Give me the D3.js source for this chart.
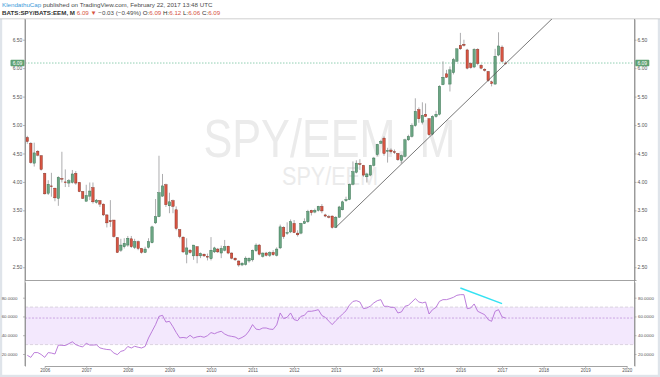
<!DOCTYPE html>
<html>
<head>
<meta charset="utf-8">
<script src="https://cdn.jsdelivr.net/npm/d3@7"></script>
<style>
  body { margin: 0; background: #fff; }
  svg { display: block; font-family: "Liberation Sans", Arial, sans-serif; }
</style>
</head>
<body>
<svg id="chart" width="660" height="377"></svg>
<script>
// Monthly SPY/EEM candles, Aug 2005 .. Feb 2017
var opens = [4.78,4.68,4.33,4.54,4.46,4.15,3.80,3.93,3.89,3.71,
  4.06,4.00,3.98,3.99,4.15,3.99,3.83,3.66,3.75,3.90,
  3.64,3.67,3.61,3.42,3.32,3.33,3.02,2.80,2.86,2.89,
  3.00,2.85,2.95,2.83,2.76,2.85,2.93,3.28,3.39,3.75,
  3.95,3.58,3.67,3.51,3.16,3.03,2.73,2.80,2.70,2.86,
  2.70,2.73,2.69,2.65,2.77,2.82,2.75,2.80,2.87,2.75,
  2.66,2.61,2.54,2.55,2.61,2.63,2.79,2.89,2.69,2.75,
  2.71,2.76,2.71,2.84,3.20,3.10,3.12,3.27,3.10,3.10,
  3.27,3.30,3.50,3.47,3.50,3.57,3.42,3.39,3.40,3.20,
  3.38,3.51,3.67,3.69,3.96,4.17,4.32,4.29,4.09,4.12,
  4.29,4.48,4.68,4.77,4.54,4.56,4.53,4.50,4.38,4.45,
  4.74,4.80,4.99,5.27,5.05,5.19,5.11,4.84,5.15,5.19,
  5.71,5.90,5.72,5.92,6.12,6.40,6.42,6.32,6.08,6.02,
  6.33,6.05,5.98,5.94,5.76,5.72,6.23,6.37,6.09];

var highs = [4.81,4.70,4.69,4.56,4.47,4.16,4.03,4.16,3.90,4.10,
  4.53,4.22,4.05,4.21,4.19,4.00,3.84,3.95,3.99,3.99,
  3.70,3.68,3.62,3.43,3.68,3.33,3.03,3.00,3.01,3.05,
  3.05,3.00,2.97,2.84,2.86,3.01,3.23,3.70,4.46,4.14,
  3.97,3.81,3.69,3.57,3.17,3.04,3.01,2.82,2.89,2.87,
  2.76,2.74,2.74,3.03,2.86,2.84,2.88,2.98,2.88,2.76,
  2.67,2.62,2.59,2.69,2.67,2.81,2.92,2.91,2.76,2.77,
  2.78,2.80,2.85,3.25,3.22,3.29,3.34,3.33,3.15,3.28,
  3.36,3.51,3.51,3.53,3.58,3.61,3.44,3.42,3.41,3.40,
  3.58,3.67,3.74,3.97,4.36,4.38,4.40,4.30,4.16,4.30,
  4.44,4.67,4.74,4.80,4.60,4.59,4.57,4.51,4.48,4.76,
  4.83,5.03,5.47,5.31,5.40,5.38,5.12,5.17,5.25,5.70,
  6.12,5.97,6.03,6.18,6.34,6.62,6.50,6.34,6.10,6.35,
  6.35,6.07,6.00,5.95,5.78,6.34,6.63,6.40,6.12];

var lows = [4.67,4.32,4.27,4.45,4.20,3.78,3.77,3.74,3.66,3.58,
  3.99,3.91,3.91,3.97,3.95,3.82,3.70,3.66,3.68,3.62,
  3.62,3.56,3.40,3.20,3.21,3.02,2.75,2.77,2.83,2.86,
  2.84,2.82,2.80,2.74,2.75,2.83,2.92,3.26,3.38,3.74,
  3.56,3.45,3.45,3.15,3.01,2.75,2.57,2.74,2.63,2.57,
  2.66,2.68,2.62,2.62,2.75,2.75,2.66,2.78,2.73,2.64,
  2.61,2.51,2.52,2.53,2.58,2.60,2.77,2.71,2.67,2.69,
  2.68,2.70,2.69,2.82,3.00,3.07,3.10,3.10,3.04,3.08,
  3.26,3.28,3.41,3.45,3.48,3.45,3.38,3.36,3.18,3.19,
  3.37,3.50,3.65,3.68,3.94,4.15,4.21,4.09,3.99,4.10,
  4.27,4.45,4.67,4.46,4.34,4.50,4.49,4.37,4.33,4.43,
  4.72,4.78,4.97,5.04,5.01,5.14,4.81,4.82,5.13,5.17,
  5.70,5.83,5.59,5.89,6.12,6.32,6.38,5.98,5.99,6.00,
  6.05,5.98,5.94,5.76,5.68,5.71,6.21,6.10,6.06];

var closes = [4.71,4.34,4.51,4.47,4.22,3.79,3.96,3.92,3.72,4.08,
  4.05,3.99,4.02,4.14,3.98,3.83,3.71,3.76,3.84,3.65,
  3.68,3.61,3.42,3.28,3.30,3.04,2.76,2.89,2.92,3.01,
  2.86,2.95,2.83,2.76,2.82,2.95,3.21,3.39,3.81,3.93,
  3.60,3.65,3.57,3.18,3.04,2.77,2.84,2.76,2.89,2.70,
  2.74,2.70,2.69,2.80,2.84,2.77,2.83,2.86,2.75,2.66,
  2.63,2.54,2.57,2.66,2.66,2.80,2.89,2.73,2.75,2.71,
  2.76,2.72,2.82,3.21,3.04,3.11,3.30,3.11,3.07,3.27,
  3.30,3.48,3.46,3.50,3.57,3.49,3.40,3.38,3.20,3.38,
  3.56,3.65,3.69,3.96,4.18,4.33,4.31,4.12,4.14,4.29,
  4.42,4.66,4.71,4.50,4.55,4.53,4.52,4.39,4.46,4.74,
  4.80,4.99,5.24,5.11,5.17,5.15,4.83,5.15,5.19,5.68,
  5.84,5.84,5.97,6.15,6.34,6.34,6.40,6.00,6.01,6.33,
  6.08,6.00,5.96,5.78,5.73,6.21,6.39,6.12,6.09];

// RSI(14) values, one per month
var rsi = [18.6,16.4,21.5,21.5,19.5,16.4,21.5,21.0,20.0,29.5,
  29.2,29.0,31.0,33.0,30.0,28.5,27.5,31.5,29.5,29.5,
  29.8,26.5,25.5,24.8,24.5,21.0,19.3,22.8,23.8,28.0,
  26.4,28.2,27.2,26.4,28.0,37.0,44.2,51.3,60.1,61.2,
  54.0,54.8,49.0,43.0,37.2,37.6,37.0,39.9,37.0,38.3,
  38.8,37.8,39.5,42.8,41.6,43.1,44.2,41.3,39.5,38.8,
  38.1,36.0,37.6,39.9,44.5,51.3,46.5,45.9,47.7,47.7,
  46.5,46.2,51.0,63.7,57.7,59.1,63.7,56.6,55.5,60.1,
  61.2,65.5,65.5,66.2,67.2,61.0,59.0,55.0,51.3,55.5,
  59.1,62.5,66.0,72.0,76.0,76.8,75.4,68.3,69.0,71.0,
  74.4,76.8,77.9,70.8,70.8,69.7,69.7,63.7,64.8,70.8,
  71.9,75.4,79.0,75.4,74.4,75.4,62.6,67.2,69.7,76.1,
  77.9,77.9,79.0,80.4,82.5,83.2,83.2,68.3,69.0,73.3,
  65.5,63.7,61.9,56.6,54.8,65.5,67.2,59.5,58.3];

var priceTicks = [2.5, 3.0, 3.5, 4.0, 4.5, 5.0, 5.5, 6.0, 6.5];
var rsiTicks = [20, 40, 60, 80];
var years = [2006,2007,2008,2009,2010,2011,2012,2013,2014,2015,2016,2017,2018,2019,2020];
var lastPrice = 6.09;
var rsiBand = [30, 70];
// drawings on the chart: [year, month, value]
var trendLine = [[2013, 0, 3.20], [2017, 0, 6.02]];
var rsiDivergence = [[2016, 0, 90.3], [2017, 0, 73.6]];

var months = closes.map((d, i) => new Date(Date.UTC(2005, 7 + i, 1)));

var svg = d3.select("#chart");
var padL = 25, padR = 634.5, paneTop = 19, mainBottom = 280, rsiTop = 282, rsiBottom = 366;

var x = d3.scaleUtc()
    .domain([Date.UTC(2006, 0, 1), Date.UTC(2020, 0, 1)])
    .range([44.7, 626.7]);
var y = d3.scaleLinear().domain([2.276, 6.864]).range([mainBottom, paneTop]);
var yR = d3.scaleLinear().domain([7.2, 96.7]).range([rsiBottom, rsiTop]);

svg.append("rect").attr("width", 660).attr("height", 377).attr("fill", "#fff");

// clip regions for the panes
var defs = svg.append("defs");
defs.append("clipPath").attr("id", "clipMain").append("rect")
    .attr("x", padL).attr("y", paneTop).attr("width", padR - padL).attr("height", mainBottom - paneTop);
defs.append("clipPath").attr("id", "clipRsi").append("rect")
    .attr("x", padL).attr("y", rsiTop).attr("width", padR - padL).attr("height", rsiBottom - rsiTop);

// header
var h1 = svg.append("text").attr("x", 2).attr("y", 7.4).style("font-size", "6.2px");
h1.append("tspan").attr("fill", "#3d9ad9").text("KlendathuCap");
h1.append("tspan").attr("fill", "#4a4a4a").text(" published on TradingView.com, February 22, 2017 13:48 UTC");

var h2 = svg.append("text").attr("x", 2).attr("y", 15.2).style("font-size", "6.2px");
h2.append("tspan").attr("fill", "#333").attr("font-weight", "bold").text("BATS:SPY/BATS:EEM, M");
h2.append("tspan").attr("fill", "#d75442").text(" 6.09 \u25BC");
h2.append("tspan").attr("fill", "#4a4a4a").text(" \u22120.03 (\u22120.49%)");
[["O:", "6.09"], ["H:", "6.12"], ["L:", "6.06"], ["C:", "6.09"]].forEach(function(p) {
    h2.append("tspan").attr("fill", "#333").text(" " + p[0]);
    h2.append("tspan").attr("fill", "#d75442").text(p[1]);
});

// frame
svg.append("rect").attr("x", 0).attr("y", 19).attr("width", 2.2).attr("height", 358).attr("fill", "#dfe4ea");
svg.append("rect").attr("x", 657.8).attr("y", 19).attr("width", 2.2).attr("height", 358).attr("fill", "#dfe4ea");
svg.append("rect").attr("x", 0).attr("y", 374.8).attr("width", 660).attr("height", 2.2).attr("fill", "#dfe4ea");
svg.append("line").attr("x1", 0).attr("x2", 660).attr("y1", 18.8).attr("y2", 18.8)
    .attr("stroke", "#c4c4c4").attr("stroke-width", 0.8);

// watermark
svg.append("text").attr("x", 329.5).attr("y", 157).attr("text-anchor", "middle")
    .attr("textLength", 252).attr("lengthAdjust", "spacingAndGlyphs")
    .style("font-size", "54px").attr("fill", "#ebebeb").text("SPY/EEM, M");
svg.append("text").attr("x", 330).attr("y", 185).attr("text-anchor", "middle")
    .attr("textLength", 96).attr("lengthAdjust", "spacingAndGlyphs")
    .style("font-size", "26px").attr("fill", "#ebebeb").text("SPY/EEM");

// main pane
var gMain = svg.append("g").attr("clip-path", "url(#clipMain)");

gMain.append("line").attr("x1", padL).attr("x2", padR)
    .attr("y1", y(lastPrice)).attr("y2", y(lastPrice))
    .attr("stroke", "#76c3a0").attr("stroke-width", 0.8).attr("stroke-dasharray", "1.5,1.5");

var idx = d3.range(closes.length);
gMain.selectAll("line.wick").data(idx).join("line").attr("class", "wick")
    .attr("x1", i => x(months[i])).attr("x2", i => x(months[i]))
    .attr("y1", i => y(highs[i])).attr("y2", i => y(lows[i]))
    .attr("stroke", "#8a8a8c").attr("stroke-width", 0.7);

gMain.selectAll("rect.body").data(idx).join("rect").attr("class", "body")
    .attr("x", i => x(months[i]) - 1.2)
    .attr("width", 2.4)
    .attr("y", i => y(Math.max(opens[i], closes[i])))
    .attr("height", i => Math.max(0.7, Math.abs(y(opens[i]) - y(closes[i]))))
    .attr("fill", i => closes[i] > opens[i] ? "#6ba583" : "#d75442")
    .attr("stroke", i => closes[i] > opens[i] ? "#2f6a48" : "#7a2a1e")
    .attr("stroke-width", 0.4);

// trend line, extended past the second anchor
var t0 = Date.UTC(trendLine[0][0], trendLine[0][1], 1), t1 = Date.UTC(trendLine[1][0], trendLine[1][1], 1);
var v0 = trendLine[0][2], v1 = trendLine[1][2], k = 1.5;
gMain.append("line")
    .attr("x1", x(t0)).attr("y1", y(v0))
    .attr("x2", x(t0 + (t1 - t0) * k)).attr("y2", y(v0 + (v1 - v0) * k))
    .attr("stroke", "#555").attr("stroke-width", 0.8);

// RSI pane
var gRsi = svg.append("g").attr("clip-path", "url(#clipRsi)");
gRsi.append("rect").attr("x", padL).attr("width", padR - padL)
    .attr("y", yR(rsiBand[1])).attr("height", yR(rsiBand[0]) - yR(rsiBand[1]))
    .attr("fill", "#f3e8fd");
rsiBand.forEach(function(v) {
    gRsi.append("line").attr("x1", padL).attr("x2", padR).attr("y1", yR(v)).attr("y2", yR(v))
        .attr("stroke", "#cfc6d3").attr("stroke-width", 0.7).attr("stroke-dasharray", "3,2");
});
gRsi.append("line").attr("x1", padL).attr("x2", padR)
    .attr("y1", yR(rsi[rsi.length - 1])).attr("y2", yR(rsi[rsi.length - 1]))
    .attr("stroke", "#b98bd8").attr("stroke-width", 0.7).attr("stroke-dasharray", "2,1.5");
gRsi.append("path").datum(idx)
    .attr("fill", "none").attr("stroke", "#b46fd6").attr("stroke-width", 0.9)
    .attr("d", d3.line().x(i => x(months[i])).y(i => yR(rsi[i])));
gRsi.append("line")
    .attr("x1", x(Date.UTC(rsiDivergence[0][0], rsiDivergence[0][1], 1))).attr("y1", yR(rsiDivergence[0][2]))
    .attr("x2", x(Date.UTC(rsiDivergence[1][0], rsiDivergence[1][1], 1))).attr("y2", yR(rsiDivergence[1][2]))
    .attr("stroke", "#35e2f2").attr("stroke-width", 1.4);

// axes
function styleAxis(g, size) {
    g.select(".domain").attr("stroke", "#8c8c8c").attr("stroke-width", 0.8);
    g.selectAll(".tick line").attr("stroke", "#8c8c8c").attr("stroke-width", 0.6);
    g.selectAll("text").attr("fill", "#555").style("font-size", size + "px")
        .style("font-family", "'Liberation Sans', Arial, sans-serif");
}

svg.append("g").attr("transform", "translate(" + padL + ",0)")
    .call(d3.axisLeft(y).tickValues(priceTicks).tickFormat(d3.format(".2f")).tickSize(2).tickPadding(0.6).tickSizeOuter(0))
    .call(g => styleAxis(g, 5));
svg.append("g").attr("transform", "translate(" + padR + ",0)")
    .call(d3.axisRight(y).tickValues(priceTicks).tickFormat(d3.format(".2f")).tickSize(2).tickPadding(1).tickSizeOuter(0))
    .call(g => styleAxis(g, 5));
svg.append("g").attr("transform", "translate(" + padL + ",0)")
    .call(d3.axisLeft(yR).tickValues(rsiTicks).tickFormat(d3.format(".4f")).tickSize(2).tickPadding(5.5).tickSizeOuter(0))
    .call(g => styleAxis(g, 4.4));
svg.append("g").attr("transform", "translate(" + padR + ",0)")
    .call(d3.axisRight(yR).tickValues(rsiTicks).tickFormat(d3.format(".4f")).tickSize(2).tickPadding(1.5).tickSizeOuter(0))
    .call(g => styleAxis(g, 4.4));
svg.append("g").attr("transform", "translate(0," + rsiBottom + ")")
    .call(d3.axisBottom(x).tickValues(years.map(yr => new Date(Date.UTC(yr, 0, 1))))
        .tickFormat(d3.utcFormat("%Y")).tickSize(2).tickPadding(1).tickSizeOuter(0))
    .call(g => styleAxis(g, 4.5));

// pane separator and vertical borders
svg.append("line").attr("x1", padL).attr("x2", padR + 2).attr("y1", 280.5).attr("y2", 280.5)
    .attr("stroke", "#8c8c8c").attr("stroke-width", 0.8);
svg.append("line").attr("x1", padL).attr("x2", padL).attr("y1", paneTop).attr("y2", rsiBottom)
    .attr("stroke", "#8c8c8c").attr("stroke-width", 0.8);
svg.append("line").attr("x1", padR).attr("x2", padR).attr("y1", paneTop).attr("y2", rsiBottom)
    .attr("stroke", "#8c8c8c").attr("stroke-width", 0.8);

// last price labels on both scales
[10.5, padR + 0.8].forEach(function(bx) {
    svg.append("rect").attr("x", bx).attr("y", y(lastPrice) - 3.2).attr("width", 14).attr("height", 6.4)
        .attr("rx", 0.8).attr("fill", "#5fa173");
    svg.append("text").attr("x", bx + 7).attr("y", y(lastPrice) + 1.8).attr("text-anchor", "middle")
        .attr("fill", "#fff").style("font-size", "5px").text(lastPrice.toFixed(2));
});
</script>
</body>
</html>
